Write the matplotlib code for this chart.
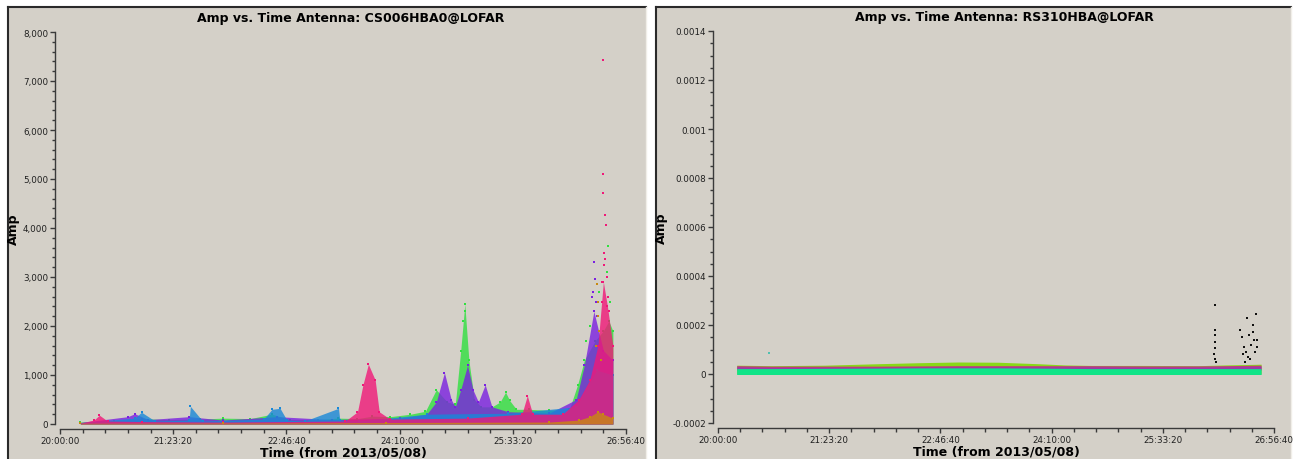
import numpy as np
import matplotlib
matplotlib.use("Agg")
import matplotlib.pyplot as plt
from matplotlib.ticker import MultipleLocator, FuncFormatter
from matplotlib.patches import Rectangle
from matplotlib.lines import Line2D

# ---- data (times as clock strings, hours may run past 24 like plotms does) ----
t0 = "20:00:00"
t1 = "26:56:40"

# CS006HBA0 : envelope tops of the point cloud per colour
green_t = ["20:15", "20:40", "21:00", "21:20", "21:43", "22:00", "22:20", "22:36", "22:49", "23:10",
           "23:25", "23:39", "23:50", "24:03", "24:18", "24:29", "24:37", "24:45", "24:51", "24:55",
           "24:58", "25:01", "25:05", "25:10", "25:18", "25:24", "25:28", "25:31", "25:36", "25:45",
           "26:00", "26:15", "26:21", "26:26", "26:34", "26:40", "26:44", "26:47"]
green_a = [40, 70, 110, 90, 100, 120, 110, 200, 90, 90,
           120, 110, 160, 150, 200, 260, 700, 450, 400, 1500,
           2450, 1300, 500, 350, 350, 450, 650, 480, 300, 300,
           280, 300, 800, 1300, 1700, 1900, 2100, 1900]

purple_t = ["20:15", "20:50", "20:55", "21:05", "21:35", "22:00", "22:40", "23:20", "24:10", "24:30",
            "24:37", "24:43", "24:48", "24:51", "24:55", "25:00", "25:04", "25:08", "25:13", "25:18",
            "25:30", "26:00", "26:20", "26:26", "26:33", "26:40", "26:47"]
purple_a = [30, 150, 210, 90, 150, 80, 150, 90, 120, 200,
            450, 1050, 500, 350, 700, 1200, 700, 450, 800, 350,
            250, 220, 500, 1200, 2300, 1500, 1300]

pink_t = ["20:15", "20:25", "20:29", "20:35", "21:00", "22:00", "23:30", "23:39", "23:43", "23:47",
          "23:52", "23:55", "24:03", "25:00", "25:40", "25:44", "25:48", "26:10", "26:22", "26:30",
          "26:36", "26:40", "26:43", "26:47"]
pink_a = [20, 80, 180, 60, 50, 40, 60, 250, 800, 1220,
          900, 250, 100, 120, 200, 580, 200, 200, 500, 900,
          1600, 2900, 2400, 1600]

blue_t = ["20:15", "20:55", "21:00", "21:10", "21:35", "21:36", "21:45", "22:30", "22:36", "22:42",
          "22:47", "23:00", "23:25", "23:26", "23:40", "24:30", "25:30", "26:20", "26:35", "26:47"]
blue_a = [30, 120, 240, 60, 80, 360, 60, 100, 300, 320,
          80, 60, 320, 80, 60, 200, 220, 350, 1100, 1000]

orange_t = ["20:15", "22:00", "24:00", "26:00", "26:22", "26:30", "26:36", "26:40", "26:47"]
orange_a = [15, 20, 30, 40, 80, 150, 250, 200, 120]

# scattered high points at the end of the CS006 run
pink_pts_t = ["26:40:00", "26:39:50", "26:39:30", "26:41:00", "26:42:00", "26:41:20", "26:40:30", "26:38:40",
              "26:42:40", "26:43:20", "26:40:50", "26:39:10", "26:44:10"]
pink_pts_a = [7430, 5100, 4710, 4265, 4070, 3370, 3250, 2900,
              3000, 2600, 3500, 2500, 2300]
green_pts_t = ["26:43:30", "26:42:30", "26:36:30", "24:58:00", "24:57:00", "26:45:00", "26:30:00", "26:27:30"]
green_pts_a = [3630, 3100, 2700, 2300, 2100, 2500, 2000, 1700]
purple_pts_t = ["26:33:00", "26:33:40", "26:32:30", "26:34:20", "26:31:40", "26:35:10"]
purple_pts_a = [3300, 2950, 2700, 2500, 2600, 2200]
orange_pts_t = ["26:35:20", "26:36:10", "26:35:50", "26:37:00", "26:34:40", "26:38:20"]
orange_pts_a = [2850, 2500, 2200, 1900, 1600, 1300]

# RS310HBA : thin band near zero
r_t = ["20:14", "20:40", "21:20", "22:00", "22:30", "23:00", "23:30", "24:00", "24:20", "24:40",
       "25:20", "26:00", "26:20", "26:47"]
r_lime = [3.6e-5, 3.4e-5, 3.6e-5, 4.2e-5, 4.6e-5, 4.9e-5, 4.8e-5, 4.2e-5, 3.7e-5, 3.5e-5,
          3.5e-5, 3.4e-5, 3.7e-5, 4.0e-5]
r_pink = [3.4e-5, 3.2e-5, 3.2e-5, 3.2e-5, 3.3e-5, 3.4e-5, 3.4e-5, 3.4e-5, 3.4e-5, 3.4e-5,
          3.3e-5, 3.3e-5, 3.4e-5, 3.6e-5]
r_green = [2.2e-5, 2.2e-5, 2.3e-5, 2.4e-5, 2.5e-5, 2.5e-5, 2.5e-5, 2.4e-5, 2.3e-5, 2.2e-5,
           2.2e-5, 2.2e-5, 2.2e-5, 2.2e-5]

black_t = ["26:12:20", "26:12:30", "26:12:10", "26:12:40", "26:12:20", "26:12:00", "26:12:30", "26:12:50",
           "26:31:00", "26:32:30", "26:34:00", "26:35:30", "26:36:40", "26:38:00", "26:39:30", "26:40:40",
           "26:41:50", "26:43:00", "26:44:00", "26:37:10", "26:33:20", "26:42:30", "26:39:00", "26:35:00",
           "26:41:00", "26:43:40"]
black_a = [2.8e-4, 1.8e-4, 1.6e-4, 1.3e-4, 1.05e-4, 8e-5, 6e-5, 5e-5,
           1.8e-4, 1.5e-4, 1.1e-4, 9e-5, 2.3e-4, 1.6e-4, 1.2e-4, 2.0e-4,
           1.4e-4, 2.45e-4, 1.1e-4, 7e-5, 8e-5, 9e-5, 6e-5, 5e-5,
           1.7e-4, 1.4e-4]


def to_sec(s):
    p = [int(v) for v in s.split(":")]
    while len(p) < 3:
        p.append(0)
    return p[0] * 3600 + p[1] * 60 + p[2] - 20 * 3600


def fmt_time(v, pos):
    v = int(round(v)) + 20 * 3600
    return "%d:%02d:%02d" % (v // 3600, (v % 3600) // 60, v % 60)


def secs(lst):
    return np.array([to_sec(s) for s in lst])


PX = 0.72  # points per pixel at dpi 100
bg = "#d4d0c8"
fig = plt.figure(figsize=(12.94, 4.6), dpi=100)
fig.patch.set_facecolor("white")

W, H = 1294.0, 460.0
for (px0, px1) in [(8, 646), (656, 1291)]:
    fig.patches.append(Rectangle((px0 / W, 0), (px1 - px0) / W, 1 - 8 / H,
                                 transform=fig.transFigure, facecolor=bg, edgecolor="none", zorder=-10))
    fig.lines.append(Line2D([px0 / W, px0 / W], [0, 1 - 8 / H], transform=fig.transFigure,
                            color="#2a2a2a", lw=1.5, zorder=-5))
    fig.lines.append(Line2D([px0 / W, px1 / W], [1 - 8 / H, 1 - 8 / H], transform=fig.transFigure,
                            color="#2a2a2a", lw=1.5, zorder=-5))
    fig.lines.append(Line2D([px1 / W, px1 / W], [0, 1 - 8 / H], transform=fig.transFigure,
                            color="#f0eee8", lw=1.0, zorder=-5))

axL = fig.add_axes([60 / W, 1 - 425 / H, 566 / W, 392 / H])
axR = fig.add_axes([718 / W, 1 - 424 / H, 556 / W, 392 / H])

for ax in (axL, axR):
    ax.patch.set_alpha(0)
    for s in ("top", "right"):
        ax.spines[s].set_visible(False)
    ax.spines["left"].set_position(("outward", 5 * PX))
    ax.spines["bottom"].set_position(("outward", 5 * PX))
    for s in ("left", "bottom"):
        ax.spines[s].set_color("#3a3a3a")
        ax.spines[s].set_linewidth(1.0)
    ax.set_xlim(to_sec(t0), to_sec(t1))
    ax.xaxis.set_major_locator(MultipleLocator(5000))
    ax.xaxis.set_minor_locator(MultipleLocator(1000))
    ax.xaxis.set_major_formatter(FuncFormatter(fmt_time))
    ax.tick_params(which="major", length=5 * PX, width=1, color="#3a3a3a", labelsize=6.3,
                   labelcolor="#202020", pad=2 * PX)
    ax.tick_params(which="minor", length=3.5 * PX, width=1, color="#3a3a3a")
    ax.set_xlabel("Time (from 2013/05/08)", fontsize=9, fontweight="bold")
    ax.set_ylabel("Amp", fontsize=9, fontweight="bold")
    ax.xaxis.set_label_coords(0.5, -22 / 392)

# left panel
layers = [(green_t, green_a, "#30e040"), (purple_t, purple_a, "#7a20e0"),
          (blue_t, blue_a, "#1888d8"), (pink_t, pink_a, "#f01878"), (orange_t, orange_a, "#c88a10")]
for tt, aa, c in layers:
    axL.fill_between(secs(tt), 0, aa, color=c, alpha=0.8, lw=0)
    axL.scatter(secs(tt), aa, s=3, marker="s", color=c, lw=0)
for tt, aa, c in [(pink_pts_t, pink_pts_a, "#f01878"), (green_pts_t, green_pts_a, "#30e040"),
                  (purple_pts_t, purple_pts_a, "#7a20e0"), (orange_pts_t, orange_pts_a, "#c88a10")]:
    axL.scatter(secs(tt), aa, s=4, marker="s", color=c, lw=0)
axL.set_ylim(0, 8000)
axL.yaxis.set_major_locator(MultipleLocator(1000))
axL.yaxis.set_minor_locator(MultipleLocator(200))
axL.yaxis.set_major_formatter(FuncFormatter(lambda v, p: "{:,.0f}".format(v)))
axL.set_title("Amp vs. Time Antenna: CS006HBA0@LOFAR", fontsize=9, fontweight="bold", pad=8,
              x=0.5 + 8 / 566)

# right panel
rt = secs(r_t)
axR.fill_between(rt, 0, r_lime, color="#88d818", lw=0)
axR.fill_between(rt, 1.6e-5, r_pink, color="#c03880", lw=0)
axR.fill_between(rt, 1.9e-5, np.array(r_pink) - 0.5e-5, color="#8040c0", lw=0, alpha=0.6)
axR.fill_between(rt, -0.2e-5, r_green, color="#10e488", lw=0)
axR.scatter(secs(black_t), black_a, s=2, marker="s", color="#101010", lw=0)
axR.scatter(secs(["20:38:30"]), [8.6e-5], s=2, marker="s", color="#50c0b0", lw=0)
axR.set_ylim(-0.0002, 0.0014)
axR.yaxis.set_major_locator(MultipleLocator(0.0002))
axR.yaxis.set_minor_locator(MultipleLocator(0.00005))
axR.yaxis.set_major_formatter(FuncFormatter(lambda v, p: "0" if abs(v) < 1e-12 else "%g" % round(v, 6)))
axR.set_title("Amp vs. Time Antenna: RS310HBA@LOFAR", fontsize=9, fontweight="bold", pad=8,
              x=0.5 + 8 / 556)

axL.yaxis.set_label_coords(-40 / 566, 0.5)
axR.yaxis.set_label_coords(-50 / 556, 0.5)

fig.savefig("out.png", dpi=100, facecolor=fig.get_facecolor())
